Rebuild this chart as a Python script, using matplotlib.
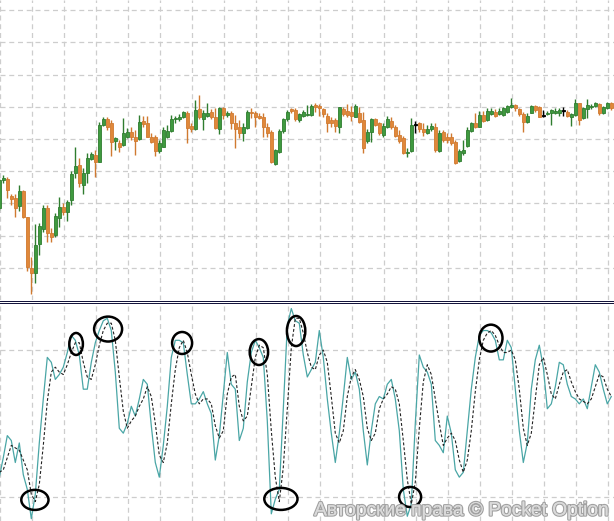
import numpy as np
import matplotlib
matplotlib.use("Agg")
import matplotlib.pyplot as plt
from matplotlib.lines import Line2D
from matplotlib.patches import Ellipse
import matplotlib.patheffects as pe

# candle prices (arbitrary price units, one entry per bar)
opens = [92, 120, 121, 104, 102, 94, 109, 83, 32, 27,
         56, 71, 92, 67, 65, 82, 93, 88, 100, 127,
         135, 115, 127, 141, 145, 138, 175, 181, 177, 159,
         157, 155, 163, 168, 163, 161, 179, 177, 163, 163,
         149, 153, 163, 169, 181, 181, 183, 187, 174, 171,
         191, 181, 184, 188, 183, 171, 192, 185, 187, 177,
         173, 167, 172, 188, 187, 184, 183, 173, 168, 136,
         148, 169, 181, 191, 190, 180, 184, 185, 185, 195,
         194, 191, 184, 180, 180, 173, 191, 189, 188, 183,
         187, 180, 159, 168, 181, 177, 165, 173, 179, 173,
         165, 162, 147, 149, 175, 177, 171, 167, 171, 173,
         149, 168, 163, 163, 158, 139, 147, 154, 169, 177,
         173, 185, 180, 186, 188, 186, 185, 188, 193, 195,
         191, 186, 178, 187, 194, 193, 184, 186, 187, 187,
         187, 189, 188, 183, 185, 197, 182, 191, 193, 194,
         196, 187, 192, 197]
highs = [122, 125, 123, 106, 106, 115, 110, 83, 43, 76,
         77, 95, 95, 72, 87, 103, 97, 100, 129, 153,
         142, 132, 147, 148, 150, 178, 183, 183, 180, 163,
         160, 182, 172, 173, 170, 185, 184, 184, 167, 165,
         160, 173, 175, 185, 184, 186, 189, 189, 177, 200,
         205, 190, 197, 191, 192, 193, 193, 189, 189, 185,
         180, 177, 190, 192, 189, 187, 187, 177, 170, 151,
         171, 182, 190, 192, 192, 187, 190, 195, 196, 197,
         196, 192, 187, 183, 182, 193, 193, 196, 194, 196,
         193, 188, 171, 182, 182, 178, 177, 184, 183, 175,
         170, 164, 152, 182, 179, 178, 177, 175, 177, 177,
         170, 170, 167, 167, 160, 151, 160, 173, 178, 187,
         189, 189, 192, 192, 191, 192, 193, 195, 202, 196,
         192, 188, 187, 195, 195, 194, 190, 189, 191, 192,
         192, 193, 190, 187, 201, 197, 193, 201, 196, 198,
         197, 194, 198, 198]
lows = [90, 117, 102, 95, 83, 89, 82, 29, 6, 17,
        45, 68, 58, 58, 63, 73, 85, 79, 95, 122,
        113, 106, 117, 140, 123, 138, 174, 170, 144, 150,
        148, 154, 162, 160, 145, 160, 173, 163, 157, 144,
        147, 153, 162, 168, 177, 179, 182, 157, 168, 170,
        181, 170, 183, 181, 171, 166, 181, 183, 171, 152,
        162, 159, 171, 182, 173, 181, 163, 163, 137, 135,
        147, 167, 179, 187, 179, 178, 183, 184, 184, 188,
        184, 183, 168, 173, 168, 167, 184, 183, 179, 183,
        177, 147, 157, 158, 174, 165, 163, 172, 171, 163,
        157, 146, 143, 148, 167, 168, 164, 166, 169, 148,
        148, 158, 157, 155, 136, 138, 145, 153, 168, 172,
        173, 178, 179, 185, 183, 185, 184, 187, 192, 189,
        184, 168, 177, 187, 188, 183, 183, 185, 175, 186,
        184, 184, 183, 174, 184, 175, 181, 182, 191, 193,
        185, 186, 191, 190]
closes = [120, 122, 110, 101, 92, 109, 83, 33, 27, 55,
          74, 92, 67, 63, 84, 93, 88, 98, 126, 134,
          117, 127, 142, 146, 138, 175, 181, 173, 158, 162,
          153, 167, 168, 163, 159, 178, 176, 163, 158, 149,
          157, 170, 169, 181, 182, 183, 188, 172, 171, 190,
          183, 187, 187, 183, 172, 192, 185, 187, 177, 171,
          167, 173, 188, 187, 183, 182, 173, 167, 138, 150,
          169, 181, 188, 189, 181, 186, 188, 186, 194, 193,
          192, 186, 177, 177, 174, 193, 186, 185, 184, 194,
          178, 152, 168, 181, 175, 167, 174, 181, 173, 164,
          159, 147, 148, 175, 175, 171, 168, 171, 174, 150,
          167, 160, 160, 157, 137, 149, 150, 170, 177, 173,
          185, 179, 189, 189, 184, 189, 192, 194, 195, 192,
          186, 178, 184, 194, 190, 183, 184, 187, 190, 189,
          190, 189, 184, 186, 197, 180, 192, 195, 194, 197,
          187, 193, 197, 192]

# stochastic oscillator
stoch_k = [28, 36, 45, 43, 34, 42, 29, 23, 11, 21,
           42, 60, 77, 75, 68, 70, 73, 79, 86, 84,
           78, 64, 64, 75, 83, 88, 92, 93, 88, 71,
           48, 46, 50, 57, 53, 60, 68, 66, 49, 34,
           28, 41, 57, 77, 84, 84, 83, 70, 58, 58,
           60, 63, 58, 54, 35, 45, 62, 79, 66, 64,
           43, 48, 67, 79, 84, 81, 77, 51, 13, 19,
           23, 56, 90, 97, 92, 91, 78, 69, 72, 75,
           88, 77, 60, 46, 34, 46, 61, 77, 68, 71,
           64, 47, 33, 47, 58, 61, 60, 66, 68, 60,
           47, 23, 12, 17, 50, 78, 73, 71, 66, 43,
           41, 38, 53, 46, 31, 28, 30, 47, 64, 77,
           86, 88, 88, 87, 84, 76, 76, 84, 81, 64,
           47, 34, 42, 64, 76, 82, 73, 56, 58, 65,
           75, 74, 66, 61, 60, 58, 60, 56, 65, 74,
           71, 64, 58, 61]
stoch_d = [30, 31, 36, 41, 40, 39, 35, 31, 21, 18,
           25, 41, 59, 71, 73, 71, 70, 74, 79, 83,
           83, 75, 69, 68, 74, 82, 88, 91, 91, 84,
           69, 55, 48, 51, 53, 57, 60, 65, 61, 50,
           37, 34, 42, 58, 72, 81, 84, 79, 70, 62,
           58, 60, 60, 58, 49, 44, 47, 62, 69, 70,
           57, 51, 53, 65, 77, 82, 81, 70, 47, 28,
           18, 32, 56, 81, 93, 93, 87, 79, 73, 72,
           78, 80, 75, 61, 46, 42, 47, 61, 69, 72,
           68, 61, 48, 43, 46, 56, 60, 62, 65, 64,
           58, 43, 27, 17, 26, 48, 67, 74, 70, 60,
           50, 41, 44, 46, 43, 35, 30, 35, 47, 63,
           76, 84, 87, 88, 86, 82, 79, 79, 80, 76,
           64, 48, 41, 46, 60, 74, 77, 70, 62, 60,
           66, 71, 72, 67, 63, 60, 59, 58, 60, 65,
           70, 69, 64, 61]
stoch_levels = [20, 80]

# highlighted turning points: (bar, level, width in bars, height in levels)
marks = [(8.9, 18.7, 6.8, 8.2), (19.2, 82.5, 3.4, 9.0), (27.2, 88.6, 7.0, 10.2),
         (45.7, 82.9, 5.0, 9.0), (64.9, 79.2, 4.6, 10.6), (70.4, 19.1, 8.3, 9.0),
         (74.2, 87.8, 4.6, 12.3), (102.7, 19.9, 5.5, 8.2), (122.9, 84.9, 5.8, 11.0)]

GREEN = "#3f9a3f"
GREEN_EDGE = "#2f7d2f"
ORANGE = "#e0883a"
ORANGE_EDGE = "#d07a30"
GRID = "#cdcdcd"
NAVY = "#14143c"

W, H = 614, 521
fig = plt.figure(figsize=(W / 100, H / 100), dpi=100)
fig.patch.set_facecolor("white")

ax = fig.add_axes([0, 1 - 300 / H, 1, 300 / H])
ax2 = fig.add_axes([0, 0, 1, 216 / H])

n = len(closes)
x = np.arange(n)
o = np.array(opens, dtype=float)
c = np.array(closes, dtype=float)
hi = np.array(highs, dtype=float)
lo = np.array(lows, dtype=float)

colors = np.where(c > o, GREEN, np.where(c < o, ORANGE, "black"))
edges = np.where(c > o, GREEN_EDGE, np.where(c < o, ORANGE_EDGE, "black"))

ax.vlines(x, lo, hi, colors=edges, linewidth=1.0, zorder=2)
body = np.abs(c - o)
ax.bar(x, np.maximum(body, 0.6), bottom=np.minimum(o, c), width=0.68,
       color=colors, edgecolor=edges, linewidth=0.6, zorder=3)
doji = c == o
ax.hlines(c[doji], x[doji] - 0.4, x[doji] + 0.4, colors="black", linewidth=1.0, zorder=4)

# bar index -> pixel: px = 4 * k - 0.7
xlim = (0.175, 0.175 + W / 4)
vgrid = np.arange(0.175, n + 1, 8)

ax.set_xlim(*xlim)
ax.set_ylim(0, 300)
ax.set_xticks(vgrid)
ax.set_yticks(np.arange(32.2, 300, 32.2))

ax2.plot(x, stoch_k, color="#4aa6a6", linewidth=0.9, zorder=3)
ax2.plot(x, stoch_d, color="#222222", linewidth=0.8, linestyle=(0, (2.6, 1.8)), zorder=4)
for bx, lv, bw, bh in marks:
    ax2.add_patch(Ellipse((bx, lv), bw, bh, fill=False, edgecolor="black",
                          linewidth=1.8, zorder=5))
ax2.set_xlim(*xlim)
ax2.set_ylim((545.6 - H) / 2.444, (545.6 - 305) / 2.444)
ax2.set_xticks(vgrid)
ax2.set_yticks(stoch_levels)

for a in (ax, ax2):
    a.grid(True, color=GRID, linestyle=(0, (4, 3)), linewidth=0.9)
    a.set_axisbelow(True)
    a.tick_params(length=0, labelbottom=False, labelleft=False)
    for s in a.spines.values():
        s.set_visible(False)

# double separator between the two panes
for ypx in (300.6, 303.4):
    fig.add_artist(Line2D([0, 1], [1 - ypx / H, 1 - ypx / H], color=NAVY,
                          linewidth=0.6, antialiased=False, transform=fig.transFigure))

fig.text(0.99, 0.003, "Авторские права © Pocket Option", ha="right", va="bottom",
         fontsize=13.8, color="#dadada", family=["Liberation Sans", "DejaVu Sans"],
         path_effects=[pe.withStroke(linewidth=1.8, foreground="#a2a2a2"),
                       pe.Normal()])

fig.savefig("out.png", dpi=100, facecolor="white")
